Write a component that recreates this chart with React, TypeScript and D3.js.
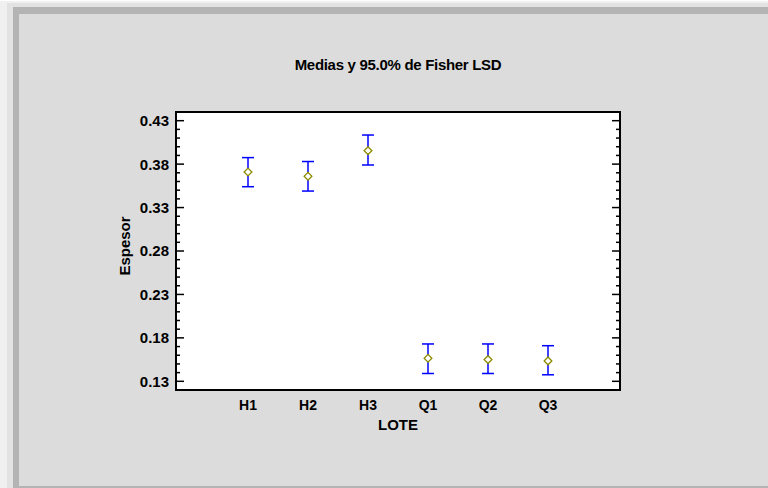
import React, { useEffect, useRef } from "react";
import * as d3 from "d3";

const categories = ["H1", "H2", "H3", "Q1", "Q2", "Q3"];
const means = [0.371, 0.366, 0.3955, 0.1565, 0.155, 0.1535];
const lower = [0.354, 0.349, 0.379, 0.139, 0.139, 0.1375];
const upper = [0.3875, 0.383, 0.4135, 0.173, 0.173, 0.171];
const yTicks = [0.13, 0.18, 0.23, 0.28, 0.33, 0.38, 0.43];

const App = () => {
  const svgRef = useRef<SVGSVGElement>(null);

  useEffect(() => {
    const svg = d3.select(svgRef.current);
    svg.selectAll("*").remove();

    const width = 768;
    const height = 488;
    const plot = { left: 176, right: 620, top: 112, bottom: 390 };
    const font = "Arial, 'Liberation Sans', sans-serif";

    // background + shadowed panel
    svg.append("rect").attr("width", width).attr("height", height).attr("fill", "#ffffff");
    svg.append("rect").attr("x", 0).attr("y", 1).attr("width", width).attr("height", height).attr("fill", "#f0f0f0");
    svg.append("rect").attr("x", 7).attr("y", 3).attr("width", width).attr("height", height).attr("fill", "#e2e2e2");
    svg.append("rect").attr("x", 13).attr("y", 7).attr("width", width).attr("height", height).attr("fill", "#b4b4b4");
    svg.append("rect").attr("x", 19).attr("y", 14).attr("width", width).attr("height", 472).attr("fill", "#dcdcdc");

    const x = d3.scalePoint()
      .domain(categories)
      .range([plot.left, plot.right])
      .padding(1.2);

    const y = d3.scaleLinear()
      .domain([0.12, 0.44])
      .range([plot.bottom, plot.top]);

    // plot area
    svg.append("rect")
      .attr("x", plot.left)
      .attr("y", plot.top)
      .attr("width", plot.right - plot.left)
      .attr("height", plot.bottom - plot.top)
      .attr("fill", "#ffffff");

    // ticks, inward on both sides
    const minor = d3.range(13, 44).map(v => v / 100).filter(v => !yTicks.some(t => Math.abs(t - v) < 1e-6));
    const tickG = svg.append("g").attr("stroke", "#000").attr("stroke-width", 1.5);
    yTicks.forEach(t => {
      tickG.append("line").attr("x1", plot.left).attr("x2", plot.left + 8).attr("y1", y(t)).attr("y2", y(t));
      tickG.append("line").attr("x1", plot.right).attr("x2", plot.right - 8).attr("y1", y(t)).attr("y2", y(t));
    });
    minor.forEach(t => {
      tickG.append("line").attr("x1", plot.left).attr("x2", plot.left + 4).attr("y1", y(t)).attr("y2", y(t));
      tickG.append("line").attr("x1", plot.right).attr("x2", plot.right - 4).attr("y1", y(t)).attr("y2", y(t));
    });

    svg.append("rect")
      .attr("x", plot.left)
      .attr("y", plot.top)
      .attr("width", plot.right - plot.left)
      .attr("height", plot.bottom - plot.top)
      .attr("fill", "none")
      .attr("stroke", "#000")
      .attr("stroke-width", 2);

    // y tick labels
    svg.append("g")
      .selectAll("text")
      .data(yTicks)
      .enter()
      .append("text")
      .attr("x", plot.left - 7)
      .attr("y", d => y(d))
      .attr("dy", "0.36em")
      .attr("text-anchor", "end")
      .attr("font-family", font)
      .attr("font-weight", "bold")
      .attr("font-size", 15)
      .text(d => d.toFixed(2));

    // x tick labels
    svg.append("g")
      .selectAll("text")
      .data(categories)
      .enter()
      .append("text")
      .attr("x", d => x(d))
      .attr("y", 410)
      .attr("text-anchor", "middle")
      .attr("font-family", font)
      .attr("font-weight", "bold")
      .attr("font-size", 14)
      .text(d => d);

    // titles
    svg.append("text")
      .attr("x", (plot.left + plot.right) / 2)
      .attr("y", 70)
      .attr("text-anchor", "middle")
      .attr("font-family", font)
      .attr("font-weight", "bold")
      .attr("font-size", 15)
      .attr("letter-spacing", -0.3)
      .text("Medias y 95.0% de Fisher LSD");

    svg.append("text")
      .attr("x", (plot.left + plot.right) / 2)
      .attr("y", 430)
      .attr("text-anchor", "middle")
      .attr("font-family", font)
      .attr("font-weight", "bold")
      .attr("font-size", 15)
      .text("LOTE");

    svg.append("text")
      .attr("transform", `translate(130, 246) rotate(-90)`)
      .attr("text-anchor", "middle")
      .attr("font-family", font)
      .attr("font-weight", "bold")
      .attr("font-size", 15)
      .text("Espesor");

    // error bars
    const bars = svg.append("g").attr("stroke", "#0000ff").attr("stroke-width", 1.5);
    categories.forEach((c, i) => {
      const cx = x(c);
      bars.append("line").attr("x1", cx).attr("x2", cx).attr("y1", y(upper[i])).attr("y2", y(lower[i]));
      bars.append("line").attr("x1", cx - 6).attr("x2", cx + 6).attr("y1", y(upper[i])).attr("y2", y(upper[i]));
      bars.append("line").attr("x1", cx - 6).attr("x2", cx + 6).attr("y1", y(lower[i])).attr("y2", y(lower[i]));
    });

    // mean markers
    const diamond = d3.symbol(d3.symbolSquare, 30)();
    svg.append("g")
      .selectAll("path")
      .data(categories)
      .enter()
      .append("path")
      .attr("d", diamond)
      .attr("transform", (c, i) => `translate(${x(c)},${y(means[i])}) rotate(45)`)
      .attr("fill", "#ffffff")
      .attr("stroke", "#8c8c00")
      .attr("stroke-width", 1.3);
  }, []);

  return (
    <div style={{ position: "absolute", left: 0, top: 0 }}>
      <svg ref={svgRef} width={768} height={488} style={{ display: "block" }} />
    </div>
  );
};

export default App;
